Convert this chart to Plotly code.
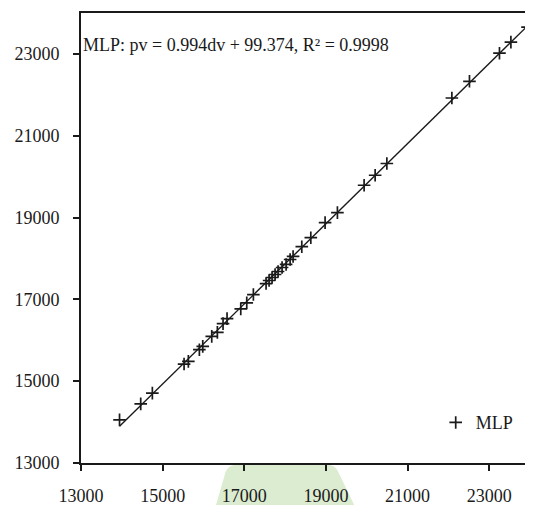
import numpy as np
import plotly.graph_objects as go

# Desired values (dv) on x, predicted values (pv) on y
dv = [13944, 14463, 14748, 15525, 15630, 15900, 15983, 16203, 16341, 16480,
      16578, 16914, 17061, 17223, 17534, 17608, 17681, 17755, 17828, 17926,
      18025, 18123, 18196, 18409, 18630, 18980, 19282, 19936, 20206, 20493,
      22086, 22517, 23252, 23532, 23939]
pv = [14054, 14446, 14708, 15419, 15483, 15770, 15850, 16096, 16194, 16407,
      16529, 16767, 16914, 17118, 17387, 17461, 17534, 17608, 17681, 17779,
      17853, 17975, 18049, 18287, 18507, 18875, 19120, 19789, 20034, 20321,
      21922, 22331, 23017, 23287, 23654]

series_name = "MLP"
equation_text = "MLP: pv = 0.994dv + 99.374, R² = 0.9998"
tick_vals = [13000, 15000, 17000, 19000, 21000, 23000]
tick_text = ["13000", "15000", "17000", "19000", "21000", "23000"]
axis_range = [13000, 24000]

# Linear trendline through the data
slope, intercept = np.polyfit(dv, pv, 1)
x_line = [min(dv), max(dv)]
y_line = [slope * v + intercept for v in x_line]

FONT = "Liberation Serif"
INK = "#1a1a1a"

fig = go.Figure()
fig.add_trace(go.Scatter(
    x=x_line, y=y_line, mode="lines",
    line=dict(color=INK, width=1.4),
    showlegend=False, hoverinfo="skip",
))
fig.add_trace(go.Scatter(
    x=dv, y=pv, mode="markers", name=series_name,
    marker=dict(symbol="cross-thin-open", size=9, color=INK,
                line=dict(color=INK, width=1.7)),
))

axis_common = dict(
    range=axis_range, tickvals=tick_vals, ticktext=tick_text,
    showgrid=False, zeroline=False, automargin=False,
    showline=True, linecolor=INK, linewidth=2,
    ticks="outside", ticklen=6, tickwidth=1.5, tickcolor=INK,
    tickfont=dict(family=FONT, size=18, color=INK),
)

# the page body adds an 8px offset, so margins are set to compensate
fig.update_layout(
    width=533, height=505,
    margin=dict(l=73, r=11, t=5, b=50),
    paper_bgcolor="white", plot_bgcolor="white",
    font=dict(family=FONT, color=INK),
    xaxis=dict(**axis_common, mirror=True, ticklabelstandoff=9),
    yaxis=dict(**axis_common, mirror=False, ticklabelstandoff=10),
    legend=dict(x=0.79, y=0.0895, xanchor="left", yanchor="middle",
                bgcolor="rgba(0,0,0,0)", itemwidth=30,
                font=dict(family=FONT, size=18, color=INK)),
    annotations=[dict(
        text=equation_text, xref="paper", yref="paper",
        x=0.0, y=0.929, xanchor="left", yanchor="middle",
        showarrow=False, font=dict(family=FONT, size=18, color=INK),
    )],
    shapes=[dict(
        type="path", xref="paper", yref="paper", layer="below",
        path="M 0.2930 -0.12 L 0.322 -0.02 Q 0.329 -0.004 0.347 -0.004 "
             "L 0.548 -0.004 Q 0.566 -0.004 0.573 -0.02 L 0.6214 -0.12 Z",
        fillcolor="#dcecd0", line=dict(width=0),
    )],
)

fig.write_html("out.html")
